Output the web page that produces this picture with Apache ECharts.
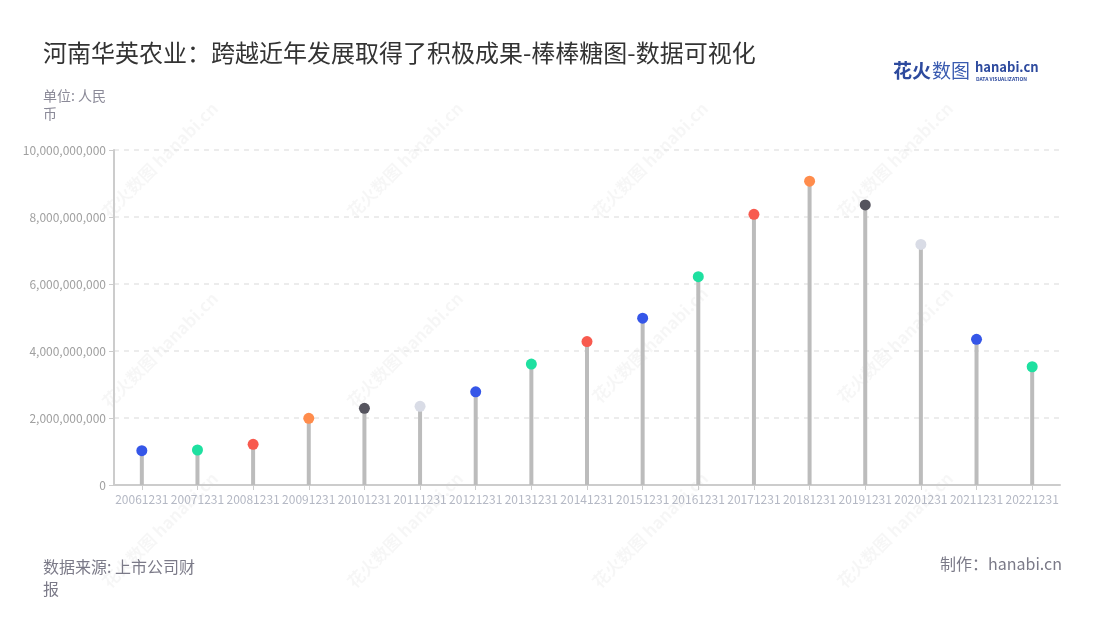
<!DOCTYPE html>
<html>
<head>
<meta charset="utf-8">
<script src="https://cdn.jsdelivr.net/npm/echarts@6/dist/echarts.min.js"></script>
<style>html,body{margin:0;padding:0;background:#fff}#c{width:1100px;height:620px}</style>
</head>
<body>
<div id="c"></div>
<script>
const categories = ['20061231','20071231','20081231','20091231','20101231','20111231','20121231','20131231','20141231','20151231','20161231','20171231','20181231','20191231','20201231','20211231','20221231'];
const values = [1024000000,1045000000,1215000000,1990000000,2290000000,2350000000,2780000000,3610000000,4280000000,4980000000,6220000000,8080000000,9070000000,8360000000,7180000000,4350000000,3530000000];
const yTicks = [0,2000000000,4000000000,6000000000,8000000000,10000000000];

const palette = ['#3556e8','#1ee0a0','#f85a4e','#ff8c4c','#55545e','#d9dce6'];
const colorIdx = [0,1,2,3,4,5,0,1,2,0,1,2,3,4,5,0,1];

const chart = echarts.init(document.getElementById('c'));
const FF = '"Noto Sans CJK SC","Noto Sans",sans-serif';

const wm = [];
[[160,160],[405,160],[650,160],[895,160],[160,350],[405,350],[650,345],[895,345],[160,530],[405,530],[650,530],[895,530]].forEach(p=>{
  wm.push({type:'text',x:p[0],y:p[1],rotation:Math.PI/4,z:-1,silent:true,
    style:{text:'花火数图 hanabi.cn',fill:'rgba(0,0,0,0.035)',font:'bold 17px '+FF,align:'center',verticalAlign:'middle'}});
});

chart.setOption({
  backgroundColor:'#fff',
  textStyle:{fontFamily:FF},
  title:[
    {text:'河南华英农业：跨越近年发展取得了积极成果-棒棒糖图-数据可视化',left:43,top:41,padding:0,
     textStyle:{fontSize:24,fontWeight:'normal',color:'#333',fontFamily:FF}},
    {text:'单位: 人民币',left:43,top:87,padding:0,
     textStyle:{fontSize:14,fontWeight:'normal',color:'#8b8a98',width:70,overflow:'break',lineHeight:18,fontFamily:FF}},
    {text:'数据来源: 上市公司财报',left:43,top:556,padding:0,
     textStyle:{fontSize:16,fontWeight:'normal',color:'#7b7a88',width:164,overflow:'break',lineHeight:22,fontFamily:FF}},
    {text:'制作：hanabi.cn',right:38,top:556,padding:0,
     textStyle:{fontSize:16,fontWeight:'normal',color:'#7b7a88',fontFamily:FF}}
  ],
  graphic:wm.concat([
    {type:'text',left:893,top:61,style:{text:'花火',fill:'#2d4a9e',font:'bold 19px '+FF}},
    {type:'text',left:932,top:61,style:{text:'数图',fill:'#3a5bb0',font:'19px '+FF}},
    {type:'text',left:975,top:61,style:{text:'hanabi.cn',fill:'#2d4a9e',font:'bold 13px '+FF}},
    {type:'text',left:976,top:77,style:{text:'DATA VISUALIZATION',fill:'#2d4a9e',font:'bold 5px '+FF}}
  ]),
  grid:{left:114,right:40,top:150,bottom:135,containLabel:false},
  xAxis:{type:'category',data:categories,boundaryGap:true,
    axisLine:{lineStyle:{color:'#cccccc',width:2}},
    axisTick:{show:true,alignWithLabel:true,lineStyle:{color:'#cccccc'}},
    axisLabel:{interval:0,color:'#b4b8c4',fontSize:12,margin:8,fontFamily:FF}},
  yAxis:{type:'value',min:0,max:10000000000,interval:2000000000,
    axisLine:{show:true,lineStyle:{color:'#cccccc',width:2}},
    axisTick:{show:true,lineStyle:{color:'#cccccc'}},
    axisLabel:{color:'#a0a0a0',fontSize:12,fontFamily:FF,
      formatter:v=>yTicks.indexOf(v)>=0?v.toLocaleString('en-US'):''},
    splitLine:{lineStyle:{color:'#e6e6e6',type:[5,5],width:1.5}}},
  series:[
    {type:'bar',data:values,barWidth:4,itemStyle:{color:'#bcbcbc'},silent:true,z:2},
    {type:'scatter',data:values.map((v,i)=>({value:v,itemStyle:{color:palette[colorIdx[i]],opacity:1}})),
     symbol:'circle',symbolSize:11,z:3}
  ]
});
</script>
</body>
</html>
